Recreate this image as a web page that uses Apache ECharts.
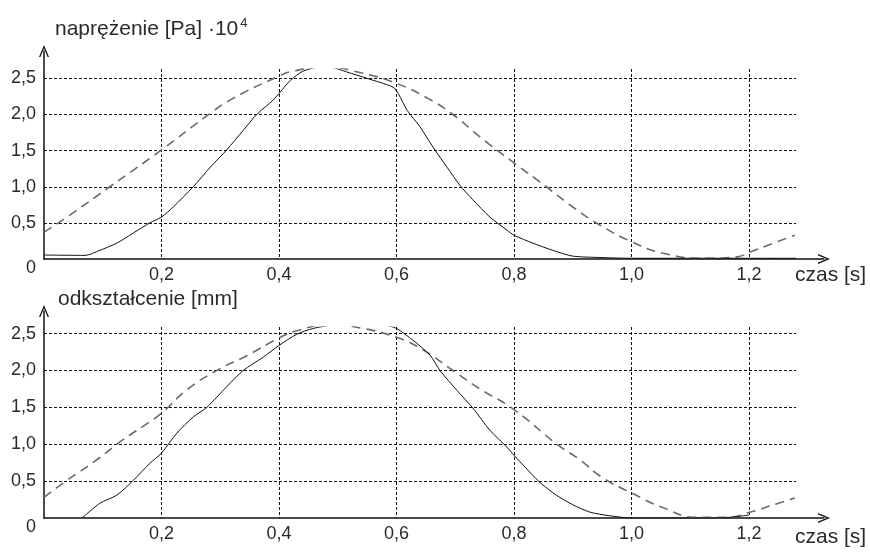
<!DOCTYPE html>
<html>
<head>
<meta charset="utf-8">
<script src="https://cdn.jsdelivr.net/npm/echarts@6/dist/echarts.min.js"></script>
<style>
html,body{margin:0;padding:0;background:#fff;}
#chart{width:870px;height:552px;}
</style>
</head>
<body>
<div id="chart"></div>
<script>
// ---- data ----
const xTicks = [0.2, 0.4, 0.6, 0.8, 1.0, 1.2];
const yTicks = [0, 0.5, 1.0, 1.5, 2.0, 2.5];

// top chart: naprężenie [Pa]·10^4
const stressMeasT = [0, 0.07, 0.095, 0.124, 0.152, 0.18, 0.2, 0.22, 0.254, 0.283, 0.311, 0.339, 0.362, 0.39, 0.402, 0.419, 0.441, 0.47, 0.492, 0.515, 0.55, 0.594, 0.603, 0.618, 0.64, 0.662, 0.686, 0.708, 0.73, 0.759, 0.788, 0.8, 0.832, 0.866, 0.9, 0.95, 1.0, 1.28];
const stressMeasV = [0.055, 0.05, 0.12, 0.22, 0.36, 0.5, 0.58, 0.72, 1.0, 1.27, 1.51, 1.78, 2.0, 2.2, 2.31, 2.47, 2.6, 2.66, 2.65, 2.59, 2.5, 2.38, 2.29, 2.06, 1.83, 1.55, 1.27, 1.02, 0.82, 0.58, 0.4, 0.33, 0.22, 0.12, 0.04, 0.02, 0.01, 0.01];
const stressFitT = [0, 0.039, 0.112, 0.2, 0.277, 0.321, 0.402, 0.419, 0.475, 0.543, 0.6, 0.652, 0.696, 0.742, 0.8, 0.855, 0.9, 0.946, 1.0, 1.054, 1.128, 1.179, 1.203, 1.242, 1.278];
const stressFitV = [0.37, 0.58, 1.0, 1.51, 1.98, 2.22, 2.54, 2.59, 2.66, 2.57, 2.43, 2.23, 2.0, 1.69, 1.33, 1.0, 0.72, 0.47, 0.24, 0.08, 0.01, 0.03, 0.1, 0.22, 0.33];

// bottom chart: odkształcenie [mm]
const strainMeasT = [0.065, 0.095, 0.124, 0.152, 0.18, 0.2, 0.226, 0.254, 0.277, 0.311, 0.339, 0.373, 0.4, 0.43, 0.458, 0.498, 0.577, 0.6, 0.628, 0.657, 0.674, 0.703, 0.73, 0.759, 0.788, 0.8, 0.82, 0.843, 0.872, 0.9, 0.929, 0.963, 1.0, 1.15, 1.2];
const strainMeasV = [0, 0.2, 0.31, 0.51, 0.74, 0.88, 1.15, 1.37, 1.5, 1.78, 2.0, 2.18, 2.34, 2.49, 2.57, 2.62, 2.62, 2.57, 2.41, 2.21, 2.0, 1.73, 1.49, 1.19, 0.96, 0.85, 0.68, 0.49, 0.31, 0.18, 0.08, 0.03, 0.0, 0.0, 0.04];
const strainFitT = [0, 0.039, 0.09, 0.134, 0.168, 0.2, 0.242, 0.294, 0.345, 0.4, 0.43, 0.487, 0.543, 0.6, 0.645, 0.696, 0.742, 0.8, 0.873, 0.912, 0.95, 1.0, 1.054, 1.111, 1.162, 1.203, 1.242, 1.278];
const strainFitV = [0.28, 0.51, 0.79, 1.06, 1.24, 1.42, 1.73, 2.0, 2.2, 2.44, 2.54, 2.62, 2.57, 2.45, 2.28, 2.0, 1.75, 1.47, 1.0, 0.79, 0.55, 0.34, 0.14, 0.01, 0.01, 0.08, 0.18, 0.27];

const labels = {
  stressTitle: 'naprężenie [Pa] ·10',
  stressExp: '4',
  strainTitle: 'odkształcenie [mm]',
  timeLabel: 'czas [s]'
};

// ---- build ----
const FONT = "'Liberation Sans', Arial, sans-serif";
const TXT = '#2a2a2a';
const zip = (t, v) => t.map((x, i) => [x, v[i]]);
const fmt = v => (v === 0 ? '\n0' : v.toFixed(1).replace('.', ','));
const chevron = 'path://M0,12 L5,0 L10,12 L8.6,12 L5,3.2 L1.4,12 Z';

function plotX(gi) {
  return {
    gridIndex: gi, type: 'value', min: 0, max: 1.28, interval: 0.2,
    axisLine: { show: false }, axisTick: { show: false },
    axisLabel: {
      showMinLabel: false, showMaxLabel: false, margin: 7,
      fontSize: 18, color: TXT, fontFamily: FONT,
      formatter: v => (xTicks.some(t => Math.abs(t - v) < 1e-6) ? v.toFixed(1).replace('.', ',') : '')
    },
    splitLine: { show: true, showMinLine: false, showMaxLine: false,
      lineStyle: { color: '#111', width: 1, type: [3, 2] } }
  };
}
function plotY(gi, max) {
  return {
    gridIndex: gi, type: 'value', min: 0, max: max, interval: 0.5,
    axisLine: { show: false }, axisTick: { show: false },
    axisLabel: {
      showMaxLabel: false, margin: 8, fontSize: 18, lineHeight: 18,
      color: TXT, fontFamily: FONT,
      formatter: v => (yTicks.some(t => Math.abs(t - v) < 1e-6) ? fmt(v) : '')
    },
    splitLine: { show: true, showMinLine: false, showMaxLine: false,
      lineStyle: { color: '#111', width: 1, type: [3, 2] } }
  };
}
function arrowAxis(gi) {
  return {
    gridIndex: gi, type: 'value', min: 0, max: 1,
    axisLine: { show: true, symbol: ['none', chevron], symbolSize: [10, 12],
      lineStyle: { color: '#111', width: 1.5 } },
    axisTick: { show: false }, axisLabel: { show: false }, splitLine: { show: false }
  };
}

const measStyle = { color: '#111', width: 1 };
const fitStyle = { color: '#6a6a6a', width: 1.6, type: [9, 6] };
const plain = { fontSize: 21, fontWeight: 'normal', color: TXT, fontFamily: FONT };

const option = {
  backgroundColor: '#fff',
  animation: false,
  grid: [
    { left: 44, right: 74, top: 69, bottom: 293 },
    { left: 44, right: 46, top: 51, bottom: 293 },
    { left: 44, right: 74, top: 327, bottom: 34 },
    { left: 44, right: 46, top: 311, bottom: 34 }
  ],
  xAxis: [plotX(0), arrowAxis(1), plotX(2), arrowAxis(3)],
  yAxis: [plotY(0, 2.63), arrowAxis(1), plotY(2, 2.59), arrowAxis(3)],
  title: [
    { text: '{n|' + labels.stressTitle + '}{s|' + labels.stressExp + '}', left: 55, top: 17, padding: 0,
      textStyle: { fontWeight: 'normal', rich: {
        n: { fontSize: 21, fontWeight: 'normal', color: TXT, fontFamily: FONT, lineHeight: 24 },
        s: { fontSize: 13, fontWeight: 'normal', color: TXT, fontFamily: FONT, verticalAlign: 'top', lineHeight: 14, padding: [0, 0, 0, 2] } } } },
    { text: labels.strainTitle, left: 58, top: 289, padding: 0, textStyle: plain },
    { text: labels.timeLabel, left: 795, top: 265, padding: 0, textStyle: plain },
    { text: labels.timeLabel, left: 795, top: 527, padding: 0, textStyle: plain }
  ],
  series: [
    { type: 'line', xAxisIndex: 0, yAxisIndex: 0, data: zip(stressFitT, stressFitV), showSymbol: false, smooth: 0.5, lineStyle: fitStyle },
    { type: 'line', xAxisIndex: 0, yAxisIndex: 0, data: zip(stressMeasT, stressMeasV), showSymbol: false, smooth: 0.25, lineStyle: measStyle },
    { type: 'line', xAxisIndex: 2, yAxisIndex: 2, data: zip(strainFitT, strainFitV), showSymbol: false, smooth: 0.5, lineStyle: fitStyle },
    { type: 'line', xAxisIndex: 2, yAxisIndex: 2, data: zip(strainMeasT, strainMeasV), showSymbol: false, smooth: 0.25, lineStyle: measStyle }
  ]
};

const chart = echarts.init(document.getElementById('chart'), null, { renderer: 'canvas' });
chart.setOption(option);
</script>
</body>
</html>
